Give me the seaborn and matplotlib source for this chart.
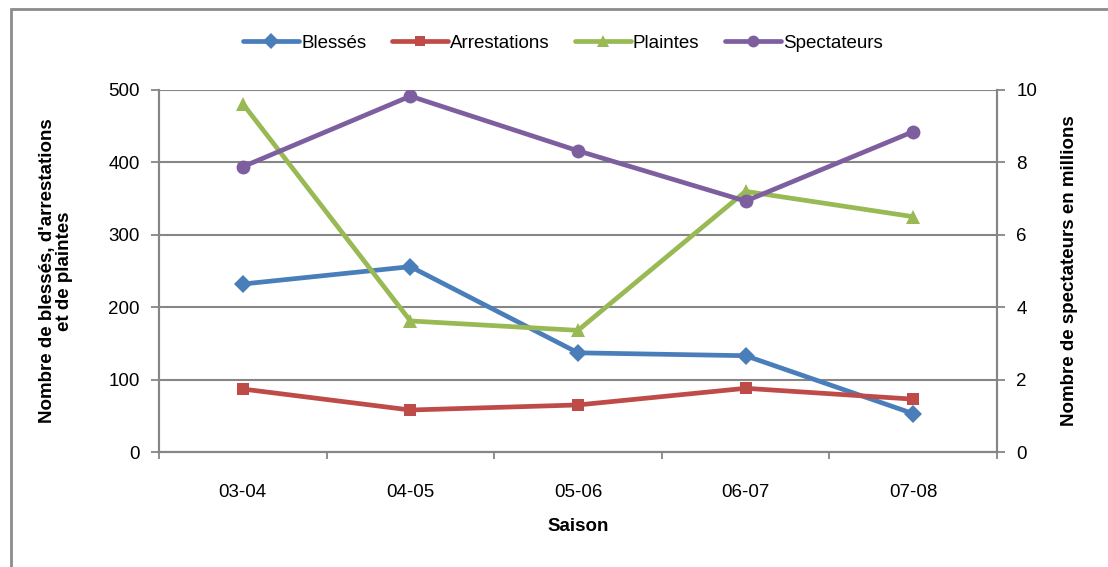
import matplotlib
matplotlib.use("Agg")
import matplotlib.pyplot as plt
from matplotlib.lines import Line2D
from matplotlib.patches import Rectangle
import numpy as np
import pandas as pd
import seaborn as sns

# Saisons et séries
saisons = ["03-04", "04-05", "05-06", "06-07", "07-08"]
blesses = [232, 256, 137, 133, 53]
arrestations = [87, 58, 65, 88, 73]
plaintes = [481, 181, 168, 360, 325]
spectateurs = [7.88, 9.83, 8.32, 6.93, 8.85]  # millions

sns.set_theme(style="white")
plt.rcParams["font.family"] = ["Liberation Sans", "DejaVu Sans"]
plt.rcParams["text.color"] = "black"
plt.rcParams["axes.labelcolor"] = "black"
plt.rcParams["xtick.labelcolor"] = "black"
plt.rcParams["ytick.labelcolor"] = "black"

FS = 13.5
GRID = "#868686"
styles = {
    "Blessés": dict(color="#4A7EBB", marker="D", ms=9),
    "Arrestations": dict(color="#BE4B48", marker="s", ms=8.5),
    "Plaintes": dict(color="#98B954", marker="^", ms=10),
    "Spectateurs": dict(color="#7D5FA0", marker="o", ms=10),
}
LW = 3.4

fig = plt.figure(figsize=(11.08, 5.67), dpi=100)
ax = fig.add_axes([0.1435, 0.2028, 0.7563, 0.6385])
ax2 = ax.twinx()

x = np.arange(len(saisons))
left = pd.DataFrame({
    "pos": np.tile(x, 3),
    "valeur": blesses + arrestations + plaintes,
    "serie": ["Blessés"] * 5 + ["Arrestations"] * 5 + ["Plaintes"] * 5,
})

for name in ["Blessés", "Arrestations", "Plaintes"]:
    st = styles[name]
    sns.lineplot(data=left[left["serie"] == name], x="pos", y="valeur", ax=ax,
                 color=st["color"], marker=st["marker"], markersize=st["ms"],
                 markeredgewidth=0, linewidth=LW, legend=False, zorder=3)

right = pd.DataFrame({"pos": x, "valeur": spectateurs})
st = styles["Spectateurs"]
sns.lineplot(data=right, x="pos", y="valeur", ax=ax2, color=st["color"],
             marker=st["marker"], markersize=st["ms"], markeredgewidth=0,
             linewidth=LW, legend=False, zorder=3)

# Axes
ax.set_xlim(-0.5, len(saisons) - 0.5)
ax.set_ylim(0, 500)
ax2.set_ylim(0, 10)
ax.set_yticks(np.arange(0, 501, 100))
ax2.set_yticks(np.arange(0, 11, 2))
ax.set_xticks(x)
ax.set_xticklabels(saisons, fontsize=FS)
ax.set_xticks(np.arange(-0.5, len(saisons), 1), minor=True)
ax.tick_params(axis="x", which="major", length=0, pad=23)
ax.tick_params(axis="x", which="minor", length=5, width=1.3, color=GRID, direction="out", bottom=True)
ax.tick_params(axis="y", length=6, width=1.3, color=GRID, direction="out", labelsize=FS, pad=8, left=True)
ax2.tick_params(axis="y", length=6, width=1.3, color=GRID, direction="out", labelsize=FS, pad=8, right=True)

ax.yaxis.grid(True, color=GRID, linewidth=1.5)
ax.set_axisbelow(True)
for a in (ax, ax2):
    a.spines["top"].set_visible(False)
    for side in ("left", "right", "bottom"):
        a.spines[side].set_color(GRID)
        a.spines[side].set_linewidth(1.5)

ax.set_xlabel("Saison", fontsize=FS, fontweight="bold", labelpad=12)
ax.set_ylabel("Nombre de blessés, d'arrestations\net de plaintes", fontsize=FS,
              fontweight="bold", labelpad=25, linespacing=1.05)
ax2.set_ylabel("Nombre de spectateurs en millions", fontsize=FS, fontweight="bold",
               labelpad=17)

# Légende
handles = [Line2D([], [], color=s["color"], marker=s["marker"], markersize=s["ms"] * 0.85,
                  markeredgewidth=0, linewidth=LW) for s in styles.values()]
fig.legend(handles, list(styles.keys()), loc="center", bbox_to_anchor=(0.508, 0.924),
           ncol=4, frameon=False, fontsize=FS, handlelength=3.0, handletextpad=0.1,
           columnspacing=1.35, markerfirst=True)

# Cadre du graphique
fig.patches.append(Rectangle((11 / 1108, -0.1), 1.2, 1 - 9 / 567 + 0.1,
                             transform=fig.transFigure, fill=False,
                             edgecolor="#8C8C8C", linewidth=2))

fig.savefig("out.png", dpi=100)
